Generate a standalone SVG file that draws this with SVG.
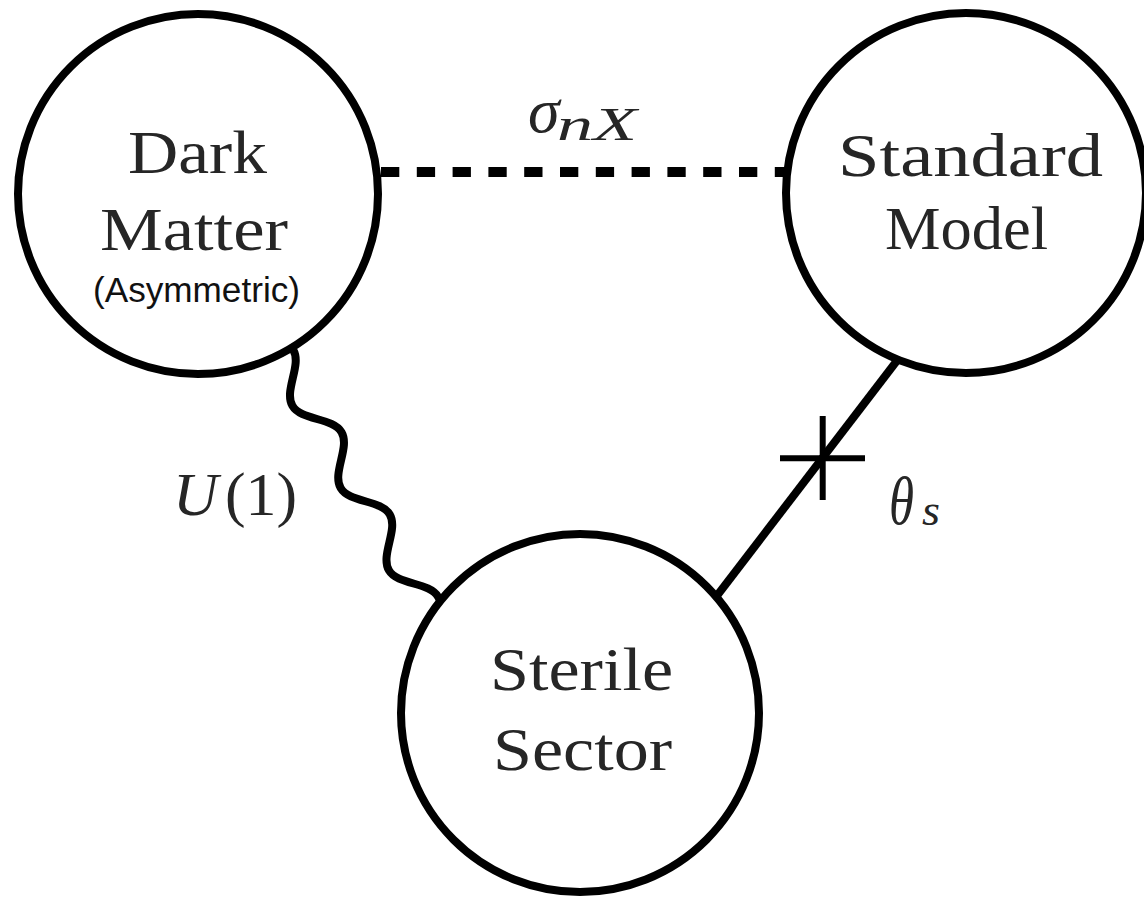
<svg xmlns="http://www.w3.org/2000/svg" width="1144" height="900" viewBox="0 0 1144 900">
<style>
.node{fill:#fff;stroke:#000;stroke-width:8}
.lbl{font-family:"Liberation Serif",serif;font-size:62px;fill:#262626}
.math{font-family:"Liberation Serif",serif;font-style:italic;fill:#262626}
.sans{font-family:"Liberation Sans",sans-serif;font-size:35px;fill:#111}
.conn{fill:none;stroke:#000;stroke-width:8}
</style>
<rect width="1144" height="900" fill="#fff"/>
<g id="connectors">
<line x1="381" y1="172" x2="790" y2="172" stroke="#000" stroke-width="10" stroke-dasharray="18.3 17.5"/>
<path class="conn" transform="translate(293.3,350) rotate(59.6)" d="M-4,0 L0,0 c17.35,0 30.32,29 47.67,29 s30.32,-29 47.67,-29 s30.32,29 47.67,29 s30.32,-29 47.67,-29 s30.32,29 47.67,29 s30.32,-29 47.67,-29 l4,0"/>
<line class="conn" x1="899" y1="358" x2="716" y2="597"/>
<line x1="780" y1="458.3" x2="865" y2="458.3" stroke="#000" stroke-width="6"/>
<line x1="822.7" y1="416" x2="822.7" y2="500" stroke="#000" stroke-width="6"/>
</g>
<g id="dark-matter">
<circle class="node" cx="198" cy="194" r="180"/>
<text class="lbl" x="128" y="173" textLength="139" lengthAdjust="spacingAndGlyphs">Dark</text>
<text class="lbl" x="100" y="250" textLength="188" lengthAdjust="spacingAndGlyphs">Matter</text>
<text class="sans" x="93" y="302" textLength="207" lengthAdjust="spacingAndGlyphs">(Asymmetric)</text>
</g>
<g id="standard-model">
<circle class="node" cx="966" cy="193" r="180"/>
<text class="lbl" x="838" y="176" textLength="265" lengthAdjust="spacingAndGlyphs">Standard</text>
<text class="lbl" x="885" y="249" textLength="163" lengthAdjust="spacingAndGlyphs">Model</text>
</g>
<g id="sterile-sector">
<circle class="node" cx="580" cy="713" r="179"/>
<text class="lbl" x="490" y="690" textLength="183" lengthAdjust="spacingAndGlyphs">Sterile</text>
<text class="lbl" x="493" y="770" textLength="179" lengthAdjust="spacingAndGlyphs">Sector</text>
</g>
<g id="labels">
<text class="math" x="528" y="132" font-size="64">σ</text>
<text class="math" x="557" y="140" font-size="46" textLength="80" lengthAdjust="spacingAndGlyphs">nX</text>
<text class="math" x="173" y="515" font-size="62" textLength="45" lengthAdjust="spacingAndGlyphs">U</text>
<text class="lbl" x="225" y="515" textLength="72" lengthAdjust="spacingAndGlyphs">(1)</text>
<text class="math" x="889" y="524" font-size="68" textLength="25" lengthAdjust="spacingAndGlyphs">θ</text>
<text class="math" x="922" y="525" font-size="44" textLength="18" lengthAdjust="spacingAndGlyphs">s</text>
</g>
</svg>
